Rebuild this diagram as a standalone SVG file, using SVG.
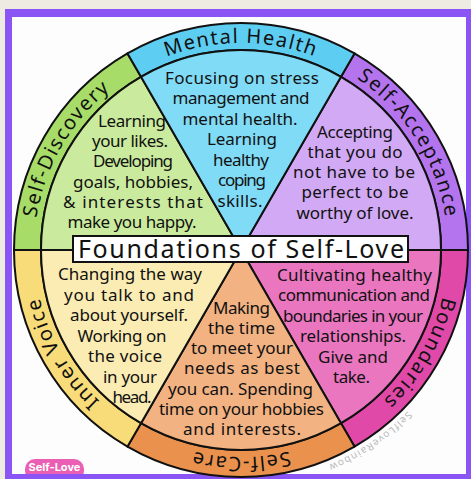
<svg xmlns="http://www.w3.org/2000/svg" xmlns:xlink="http://www.w3.org/1999/xlink" width="471" height="479" viewBox="0 0 471 479">
<style>
.edge{stroke:#111;stroke-width:2;stroke-linejoin:round}
.lbl{font-family:"Noto Sans","DejaVu Sans",sans-serif;font-size:20px;letter-spacing:1.5px;fill:#111}
.body{font-family:"Noto Sans","DejaVu Sans",sans-serif;font-size:17px;fill:#111;text-anchor:middle}
.title{font-family:"Noto Sans","DejaVu Sans",sans-serif;font-size:25px;fill:#111;text-anchor:middle}
.wm{font-family:"Noto Sans","DejaVu Sans",sans-serif;font-size:10px;letter-spacing:1.2px;fill:#b9b9b9}
</style>
<defs>
<path id="p-sa" d="M241,43 A207,207 0 0 1 420.3,353.5"/>
<path id="p-bo" d="M420.3,146.5 A207,207 0 0 1 241,457"/>
<path id="p-sc" d="M420.3,353.5 A207,207 0 0 1 61.7,353.5"/>
<path id="p-iv" d="M241,457 A207,207 0 0 1 61.7,146.5"/>
<path id="p-sd" d="M61.7,353.5 A207,207 0 0 1 241,43"/>
<path id="p-mh" d="M61.7,146.5 A207,207 0 0 1 420.3,146.5"/>
<path id="p-wm" d="M459,329.3 A232,232 0 0 1 232.9,481.9"/>
</defs>
<rect x="0" y="0" width="471" height="479" fill="#eeebe2"/>
<rect x="5" y="9" width="466" height="470" fill="#8b55f6"/>
<rect x="12" y="17" width="454" height="457" fill="#fdfdfd"/>

<g id="self-acceptance">
<path class="edge" fill="#b374ee" d="M354.5,53.4 A227,227 0 0 1 468,250 L441,250 A200,200 0 0 0 341,76.8 Z"/>
<path class="edge" fill="#d1a9f5" d="M241,250 L341,76.8 A200,200 0 0 1 441,250 Z"/>
<text class="lbl"><textPath href="#p-sa" startOffset="48%" text-anchor="middle">Self-Acceptance</textPath></text>
<text class="body" x="355" y="138" textLength="76">Accepting</text>
<text class="body" x="355" y="158" textLength="95">that you do</text>
<text class="body" x="354" y="178" textLength="122">not have to be</text>
<text class="body" x="355" y="198" textLength="107">perfect to be</text>
<text class="body" x="355" y="219" textLength="117">worthy of love.</text>
</g>

<g id="boundaries">
<path class="edge" fill="#e049a8" d="M468,250 A227,227 0 0 1 354.5,446.6 L341,423.2 A200,200 0 0 0 441,250 Z"/>
<path class="edge" fill="#e976bf" d="M241,250 L441,250 A200,200 0 0 1 341,423.2 Z"/>
<text class="lbl"><textPath href="#p-bo" startOffset="50%" text-anchor="middle">Boundaries</textPath></text>
<text class="body" x="354.5" y="281" textLength="155">Cultivating healthy</text>
<text class="body" x="354" y="301" textLength="152">communication and</text>
<text class="body" x="353" y="322" textLength="140">boundaries in your</text>
<text class="body" x="353" y="342" textLength="106">relationships.</text>
<text class="body" x="353" y="363" textLength="70">Give and</text>
<text class="body" x="351.5" y="383" textLength="37">take.</text>
</g>

<g id="self-care">
<path class="edge" fill="#ea924d" d="M354.5,446.6 A227,227 0 0 1 127.5,446.6 L141,423.2 A200,200 0 0 0 341,423.2 Z"/>
<path class="edge" fill="#f2b281" d="M241,250 L341,423.2 A200,200 0 0 1 141,423.2 Z"/>
<text class="lbl"><textPath href="#p-sc" startOffset="50%" text-anchor="middle">Self-Care</textPath></text>
<text class="body" x="241.5" y="314" textLength="57">Making</text>
<text class="body" x="241.5" y="334" textLength="67">the time</text>
<text class="body" x="242" y="354" textLength="102">to meet your</text>
<text class="body" x="242" y="374" textLength="116">needs as best</text>
<text class="body" x="240.5" y="395" textLength="145">you can. Spending</text>
<text class="body" x="241.5" y="415" textLength="165">time on your hobbies</text>
<text class="body" x="242" y="435" textLength="118">and interests.</text>
</g>

<g id="inner-voice">
<path class="edge" fill="#f8dc79" d="M127.5,446.6 A227,227 0 0 1 14,250 L41,250 A200,200 0 0 0 141,423.2 Z"/>
<path class="edge" fill="#faecb3" d="M241,250 L141,423.2 A200,200 0 0 1 41,250 Z"/>
<text class="lbl"><textPath href="#p-iv" startOffset="50%" text-anchor="middle">Inner Voice</textPath></text>
<text class="body" x="130" y="280" textLength="144">Changing the way</text>
<text class="body" x="129" y="301" textLength="130">you talk to and</text>
<text class="body" x="129" y="321" textLength="118">about yourself.</text>
<text class="body" x="122" y="342" textLength="89">Working on</text>
<text class="body" x="125" y="362" textLength="74">the voice</text>
<text class="body" x="130" y="383" textLength="54">in your</text>
<text class="body" x="132" y="403" textLength="39">head.</text>
</g>

<g id="self-discovery">
<path class="edge" fill="#a7dc69" d="M14,250 A227,227 0 0 1 127.5,53.4 L141,76.8 A200,200 0 0 0 41,250 Z"/>
<path class="edge" fill="#caeb9d" d="M241,250 L41,250 A200,200 0 0 1 141,76.8 Z"/>
<text class="lbl"><textPath href="#p-sd" startOffset="50%" text-anchor="middle">Self-Discovery</textPath></text>
<text class="body" x="132" y="127" textLength="68">Learning</text>
<text class="body" x="130" y="147" textLength="76">your likes.</text>
<text class="body" x="133" y="167" textLength="80">Developing</text>
<text class="body" x="133" y="187.5" textLength="120">goals, hobbies,</text>
<text class="body" x="133" y="208" textLength="140">&amp; interests that</text>
<text class="body" x="132" y="228" textLength="129">make you happy.</text>
</g>

<g id="mental-health">
<path class="edge" fill="#5dcdf1" d="M127.5,53.4 A227,227 0 0 1 354.5,53.4 L341,76.8 A200,200 0 0 0 141,76.8 Z"/>
<path class="edge" fill="#80dbf7" d="M241,250 L141,76.8 A200,200 0 0 1 341,76.8 Z"/>
<text class="lbl"><textPath href="#p-mh" startOffset="50%" text-anchor="middle">Mental Health</textPath></text>
<text class="body" x="242" y="84" textLength="154">Focusing on stress</text>
<text class="body" x="241" y="104" textLength="137">management and</text>
<text class="body" x="240" y="125" textLength="115">mental health.</text>
<text class="body" x="242" y="145" textLength="70">Learning</text>
<text class="body" x="241" y="166" textLength="56">healthy</text>
<text class="body" x="242" y="186" textLength="48">coping</text>
<text class="body" x="240" y="207" textLength="45">skills.</text>
</g>

<g id="connectors"></g>

<g id="title">
<rect x="73" y="236" width="335" height="26" fill="#ffffff" stroke="#111" stroke-width="2"/>
<text class="title" x="241" y="258" textLength="326">Foundations of Self-Love</text>
</g>

<g id="watermark">
<text class="wm"><textPath href="#p-wm" startOffset="50%" text-anchor="middle">SelfLoveRainbow</textPath></text>
</g>

<g id="badge">
<rect x="25" y="459" width="59" height="22" rx="10" fill="#ea5fb3"/>
<text x="54.5" y="471" font-family="Inter,'Noto Sans',sans-serif" font-size="11" font-weight="700" fill="#ffffff" text-anchor="middle">Self-Love</text>
<rect x="5" y="474" width="120" height="5" fill="#8b55f6"/>
</g>
</svg>
